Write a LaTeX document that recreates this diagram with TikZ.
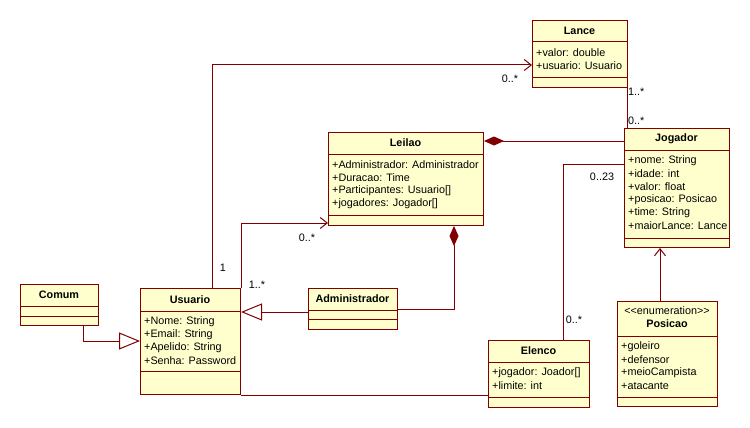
\documentclass[tikz,border=0pt]{standalone}
\usepackage{fontspec}
\setmainfont{Liberation Sans}
\usetikzlibrary{arrows.meta}

\definecolor{umlred}{RGB}{128,0,0}
\definecolor{umlfill}{RGB}{255,255,206}

\tikzset{
  umlline/.style={draw=umlred, line width=1pt},
  classbox/.style={umlline, fill=umlfill, anchor=north west, inner sep=0pt},
  title/.style={font=\fontsize{10.8}{12}\selectfont\bfseries, inner sep=0pt},
  attr/.style={font=\fontsize{10.8}{12}\selectfont, anchor=west, inner sep=0pt},
  mult/.style={font=\fontsize{10.8}{12}\selectfont, inner sep=0pt},
  nav/.style={umlline, -{Straight Barb[length=7pt,width=11pt,line width=1pt]}},
  gen/.style={umlline, -{Triangle[open,length=21pt,width=17pt,line width=1pt]}},
  comp/.style={umlline, {Diamond[length=20pt,width=9pt,color=umlred,fill=umlred]}-},
}

% name, left, top, right, bottom, first separator, second separator
\newcommand\umlclass[7]{%
  \node[classbox, minimum width={(#4)-(#2)}, minimum height={(#5)-(#3)}] (#1) at (#2,#3) {};
  \draw[umlline] (#2,#6) -- (#4,#6);
  \draw[umlline] (#2,#7) -- (#4,#7);
}

\begin{document}
\begin{tikzpicture}[x=1pt,y=-1pt]
  \fill[white] (0,0) rectangle (750,428);
  \useasboundingbox (0,0) rectangle (750,428);

  % class boxes
  \umlclass{lance}{532}{20}{627}{87}{42}{78}
  \umlclass{leilao}{328}{132}{483}{225}{154}{215}
  \umlclass{jogador}{624}{128}{729}{247}{150}{238}
  \umlclass{comum}{20}{284}{98}{325}{306}{316}
  \umlclass{usuario}{140}{288}{240}{394}{311}{371}
  \umlclass{admin}{308}{288}{397}{329}{310}{319}
  \umlclass{elenco}{488}{340}{589}{407}{362}{397}
  \umlclass{posicao}{617}{301}{717}{406}{336}{397}

  % titles
  \node[title] (lance-t) at (579.5,31) {Lance};
  \node[title] (leilao-t) at (405.5,143) {Leilao};
  \node[title] (jogador-t) at (676.5,139) {Jogador};
  \node[title] (comum-t) at (59,295) {Comum};
  \node[title] (usuario-t) at (190,299.5) {Usuario};
  \node[title] (admin-t) at (352.5,299) {Administrador};
  \node[title] (elenco-t) at (538.5,351) {Elenco};
  \node[mult] (posicao-s) at (667,311) {{<}{<}enumeration{>}{>}};
  \node[title] (posicao-t) at (667,324) {Posicao};

  % attributes
  \node[attr] at (536,53) {+valor: double};
  \node[attr] at (536,66) {+usuario: Usuario};

  \node[attr] at (332,165) {+Administrador: Administrador};
  \node[attr] at (332,178) {+Duracao: Time};
  \node[attr] at (332,191) {+Participantes: Usuario[]};
  \node[attr] at (332,204) {+jogadores: Jogador[]};

  \node[attr] at (628,161) {+nome: String};
  \node[attr] at (628,174) {+idade: int};
  \node[attr] at (628,187) {+valor: float};
  \node[attr] at (628,200) {+posicao: Posicao};
  \node[attr] at (628,213) {+time: String};
  \node[attr] at (628,226) {+maiorLance: Lance};

  \node[attr] at (144,322) {+Nome: String};
  \node[attr] at (144,335) {+Email: String};
  \node[attr] at (144,348) {+Apelido: String};
  \node[attr] at (144,361) {+Senha: Password};

  \node[attr] at (492,373) {+jogador: Joador[]};
  \node[attr] at (492,386) {+limite: int};

  \node[attr] at (621,347) {+goleiro};
  \node[attr] at (621,360) {+defensor};
  \node[attr] at (621,373) {+meioCampista};
  \node[attr] at (621,386) {+atacante};

  % connectors
  \draw[nav] (usuario.north -| 212,0) |- (lance.west |- 0,65);
  \draw[nav] (usuario.north east) |- (leilao.west |- 0,223);
  \draw[comp] (leilao.east |- 0,141) -- (jogador.west |- 0,141);
  \draw[comp] (leilao.south -| 454,0) |- (admin.east |- 0,309);
  \draw[gen] (admin.west |- 0,312) -- (usuario.east |- 0,312);
  \draw[gen] (comum.south -| 83,0) |- (usuario.west |- 0,341);
  \draw[umlline] (lance.south -| 627,0) -- (jogador.north -| 627,0);
  \draw[umlline] (jogador.west |- 0,164) -| (elenco.north -| 563,0);
  \draw[umlline] (usuario.south east) -- (elenco.west |- usuario.south east);
  \draw[nav] (posicao.north -| 660,0) -- (jogador.south -| 660,0);

  % multiplicities
  \node[mult] (m-lance-u) at (510,79) {0..*};
  \node[mult, anchor=west] (m-lance-j) at (628,92) {1..*};
  \node[mult, anchor=west] (m-jog-l) at (628,121) {0..*};
  \node[mult] (m-jog-e) at (602,177) {0..23};
  \node[mult] (m-elenco) at (574,320) {0..*};
  \node[mult] (m-leilao) at (307,238) {0..*};
  \node[mult] (m-usr-lance) at (223,268) {1};
  \node[mult] (m-usr-leilao) at (257,285) {1..*};
\end{tikzpicture}
\end{document}
